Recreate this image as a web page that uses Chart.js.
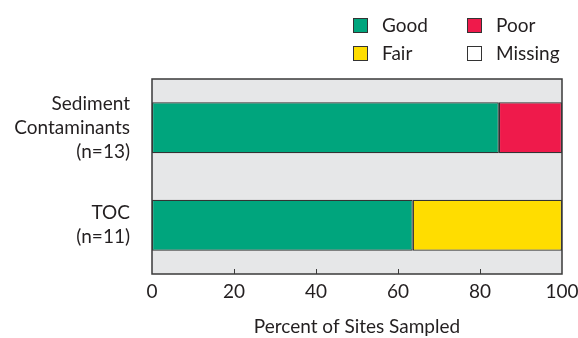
<!DOCTYPE html>
<html>
<head>
<meta charset="utf-8">
<script src="https://cdn.jsdelivr.net/npm/chart.js@4.4.0/dist/chart.umd.min.js"></script>
<style>
  body { margin: 0; background: #fff; }
  #wrap { position: relative; width: 578px; height: 338px; }
  .lg { position: absolute; font: 19px Lato, sans-serif; color: #231f20; line-height: 22px; }
  .sw { position: absolute; width: 13px; height: 13px; border: 1px solid #333; }
</style>
</head>
<body>
<div id="wrap">
  <canvas id="chart" width="578" height="338"></canvas>
</div>
<script>
const categories = [['Sediment', 'Contaminants', '(n=13)'], ['TOC', '(n=11)']];
const goodValues = [84.6, 63.6];
const fairValues = [null, 36.4];
const poorValues = [15.4, null];
const missingValues = [null, null];
const xTicks = [0, 20, 40, 60, 80, 100];

const green = '#00a57d';
const yellow = '#ffdd00';
const red = '#ef1a4b';
const plotBg = '#e6e7e8';
const edge = '#333333';
const textColor = '#231f20';
const fontFamily = 'Lato, sans-serif';

// legend laid out in two columns like the original
const legendItems = [
  { label: 'Good', color: green, x: 353, y: 18 },
  { label: 'Poor', color: red, x: 467, y: 18 },
  { label: 'Fair', color: yellow, x: 353, y: 46 },
  { label: 'Missing', color: '#ffffff', x: 467, y: 46 }
];
const wrap = document.getElementById('wrap');
legendItems.forEach(it => {
  const sw = document.createElement('div');
  sw.className = 'sw';
  sw.style.left = it.x + 'px';
  sw.style.top = it.y + 'px';
  sw.style.background = it.color;
  wrap.appendChild(sw);
  const tx = document.createElement('div');
  tx.className = 'lg';
  tx.textContent = it.label;
  tx.style.left = (it.x + 29) + 'px';
  tx.style.top = (it.y - 4) + 'px';
  wrap.appendChild(tx);
});

const boxPlugin = {
  id: 'box',
  beforeDatasetsDraw(chart) {
    const { ctx, chartArea: a } = chart;
    ctx.save();
    ctx.fillStyle = plotBg;
    ctx.fillRect(a.left, a.top, a.right - a.left, a.bottom - a.top);
    ctx.restore();
  },
  afterDatasetsDraw(chart) {
    const { ctx, chartArea: a } = chart;
    const xs = chart.scales.x;
    ctx.save();
    ctx.strokeStyle = '#3a3a3a';
    ctx.lineWidth = 1.5;
    ctx.strokeRect(a.left, a.top, a.right - a.left, a.bottom - a.top);
    ctx.lineWidth = 1;
    ctx.beginPath();
    xTicks.slice(1, -1).forEach(v => {
      const px = Math.round(xs.getPixelForValue(v)) + 0.5;
      ctx.moveTo(px, a.bottom);
      ctx.lineTo(px, a.bottom - 5);
    });
    ctx.stroke();
    ctx.restore();
  }
};

function ds(label, data, color) {
  return {
    label: label,
    data: data,
    backgroundColor: color,
    borderColor: edge,
    borderWidth: 1.2,
    borderSkipped: false,
    barPercentage: 0.523,
    categoryPercentage: 1
  };
}

new Chart(document.getElementById('chart'), {
  type: 'bar',
  data: {
    labels: categories,
    datasets: [
      ds('Good', goodValues, green),
      ds('Fair', fairValues, yellow),
      ds('Poor', poorValues, red),
      ds('Missing', missingValues, '#ffffff')
    ]
  },
  options: {
    indexAxis: 'y',
    responsive: false,
    devicePixelRatio: 1,
    animation: false,
    layout: { padding: { top: 79, right: 16, left: 0, bottom: 0 } },
    plugins: {
      legend: { display: false },
      tooltip: { enabled: false }
    },
    scales: {
      x: {
        stacked: true,
        min: 0,
        max: 100,
        afterBuildTicks(scale) { scale.ticks = xTicks.map(v => ({ value: v })); },
        afterFit(scale) { scale.height = 64; scale.paddingRight = 0; scale.paddingLeft = 0; },
        grid: { display: false, drawTicks: false },
        border: { display: false },
        ticks: { color: textColor, padding: 6, font: { family: fontFamily, size: 19 } },
        title: {
          display: true,
          text: 'Percent of Sites Sampled',
          color: textColor,
          padding: { top: 0, bottom: 0 },
          font: { family: fontFamily, size: 19 }
        }
      },
      y: {
        stacked: true,
        afterFit(scale) { scale.width = 152; scale.paddingTop = 0; scale.paddingBottom = 0; },
        grid: { display: false, drawTicks: false },
        border: { display: false },
        ticks: { color: textColor, padding: 22, font: { family: fontFamily, size: 19, lineHeight: 1.26 } }
      }
    }
  },
  plugins: [boxPlugin]
});
</script>
</body>
</html>
